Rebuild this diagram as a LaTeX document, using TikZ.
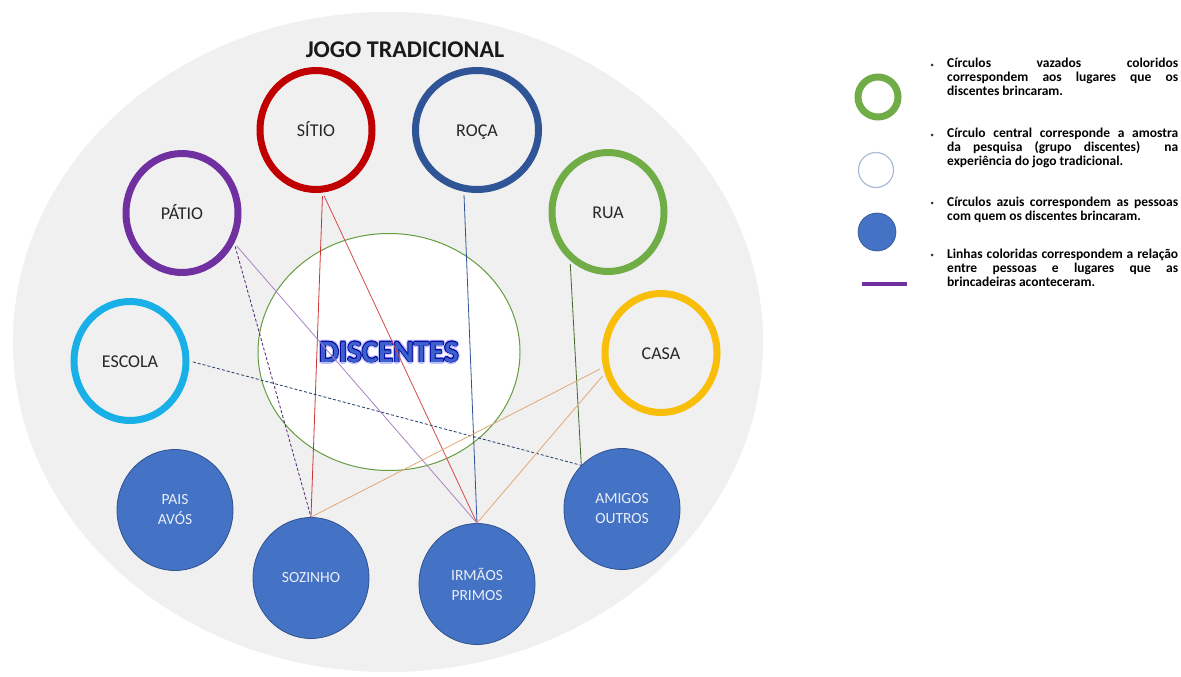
\documentclass[tikz,border=0pt]{standalone}
\usepackage{fontspec}
\setmainfont{Carlito}
\usetikzlibrary{shapes.geometric, positioning}
\definecolor{sitiored}{RGB}{192, 0, 0}
\definecolor{rocablue}{RGB}{47, 85, 151}
\definecolor{patiopurple}{RGB}{112, 48, 160}
\definecolor{ruagreen}{RGB}{112, 173, 71}
\definecolor{escolacyan}{RGB}{24, 176, 230}
\definecolor{casagold}{RGB}{248, 190, 10}
\definecolor{pessoablue}{RGB}{68, 114, 196}
\definecolor{pessoaedge}{RGB}{47, 82, 143}
\definecolor{fundogray}{RGB}{240, 240, 240}
\definecolor{lineorange}{RGB}{226, 168, 120}

\begin{document}
\begin{tikzpicture}[
    x=1pt, y=-1pt,
    lugar/.style={ellipse, draw, line width=7pt, minimum width=112pt,
                  minimum height=119pt, text=black!85, text height=12pt,
                  text depth=0pt, font=\fontsize{18}{20}\selectfont},
    pessoa/.style={ellipse, draw=pessoaedge, line width=0.8pt, fill=pessoablue,
                   minimum width=116pt, minimum height=121pt, align=center,
                   text=white!88!pessoablue, font=\fontsize{15.5}{20}\selectfont},
    rel/.style={line width=0.8pt, shorten <=3.5pt},
    legtxt/.style={anchor=north west, text width=231pt, align=justify,
                   inner sep=0pt, font=\bfseries\fontsize{13.5}{14}\selectfont},
    bolinha/.style={circle, fill=black!80, inner sep=0pt, minimum size=3pt},
    rotulo/.style={font=\bfseries\fontsize{31}{31}\selectfont}
]
\useasboundingbox (0,0) rectangle (1181,677);
\fill[white] (0,0) rectangle (1181,677);

% big background ellipse
\fill[fundogray] (388,342) ellipse [x radius=375pt, y radius=330pt];

\node[font=\bfseries\fontsize{24}{28}\selectfont, text=black!90] (titulo) at (405,50) {JOGO TRADICIONAL};

% central circle
\node[ellipse, draw=ruagreen!90!black, line width=1pt, fill=white,
      minimum width=262pt, minimum height=237pt] (discentes) at (389,352) {};
\foreach \a in {0,45,...,315}
  \node[rotulo, text=blue!25!white, shift={(\a:2pt)}] at (discentes) {DISCENTES};
\foreach \a in {0,45,...,315}
  \node[rotulo, text=blue!60!black, shift={(\a:0.8pt)}] at (discentes) {DISCENTES};
\node[rotulo, text=pessoablue!85!blue] (rotdisc) at (discentes) {DISCENTES};

% places
\node[lugar, draw=sitiored]    (sitio)  at (316,130) {SÍTIO};
\node[lugar, draw=rocablue, minimum width=123pt] (roca) at (477,130) {ROÇA};
\node[lugar, draw=patiopurple] (patio)  at (182,213) {PÁTIO};
\node[lugar, draw=ruagreen]    (rua)    at (608,212) {RUA};
\node[lugar, draw=escolacyan]  (escola) at (130,361) {ESCOLA};
\node[lugar, draw=casagold]    (casa)   at (661,353) {CASA};

% people
\node[pessoa] (pais)    at (175,510) {PAIS\\AVÓS};
\node[pessoa] (sozinho) at (311,578) {SOZINHO};
\node[pessoa] (irmaos)  at (477,584) {IRMÃOS\\PRIMOS};
\node[pessoa] (amigos)  at (622,509) {AMIGOS\\OUTROS};

% relations
\draw[rel, sitiored!80]                       (sitio.-84)  -- (sozinho.north);
\draw[rel, sitiored!70]                       (sitio.-84)  -- (irmaos.north);
\draw[rel, rocablue]                          (roca.-102)  -- (irmaos.north);
\draw[rel, patiopurple!70!black, densely dashed] (patio.-30) -- (sozinho.north);
\draw[rel, patiopurple!60]                    (patio.-30)  -- (irmaos.north);
\draw[rel, rocablue!70!black, densely dashed] (escola.east) -- (amigos.133);
\draw[rel, ruagreen!60!black]                 (rua.-128)   -- (amigos.133);
\draw[rel, lineorange]                        (casa.194)   -- (sozinho.north);
\draw[rel, lineorange]                        (casa.200)   -- (irmaos.north);

% legend
\node[circle, draw=ruagreen, line width=7pt, minimum size=40pt] (legvazado) at (878,97) {};
\node[circle, draw=rocablue!40, line width=1.2pt, fill=white, minimum size=35pt] (legcentral) at (876,170) {};
\node[circle, draw=pessoaedge, line width=0.6pt, fill=pessoablue, minimum size=38pt] (legpessoa) at (877,232) {};
\coordinate (leglinha1) at (862,284);
\coordinate (leglinha2) at (907,284);
\draw[patiopurple, line width=4pt] (leglinha1) -- (leglinha2);

\node[legtxt] (leg1) at (947,58)  {Círculos vazados coloridos\linebreak correspondem aos lugares que os\linebreak discentes brincaram.};
\node[legtxt] (leg2) at (947,128) {Círculo central corresponde a amostra\linebreak da pesquisa (grupo discentes)\ \ na\linebreak experiência do jogo tradicional.};
\node[legtxt] (leg3) at (947,197) {Círculos azuis correspondem as pessoas\linebreak com quem os discentes brincaram.};
\node[legtxt] (leg4) at (947,249) {Linhas coloridas correspondem a relação\linebreak entre pessoas e lugares que as\linebreak brincadeiras aconteceram.};

\node[bolinha] at (932,65)  {};
\node[bolinha] at (932,135) {};
\node[bolinha] at (932,203) {};
\node[bolinha] at (932,255) {};

\end{tikzpicture}
\end{document}
